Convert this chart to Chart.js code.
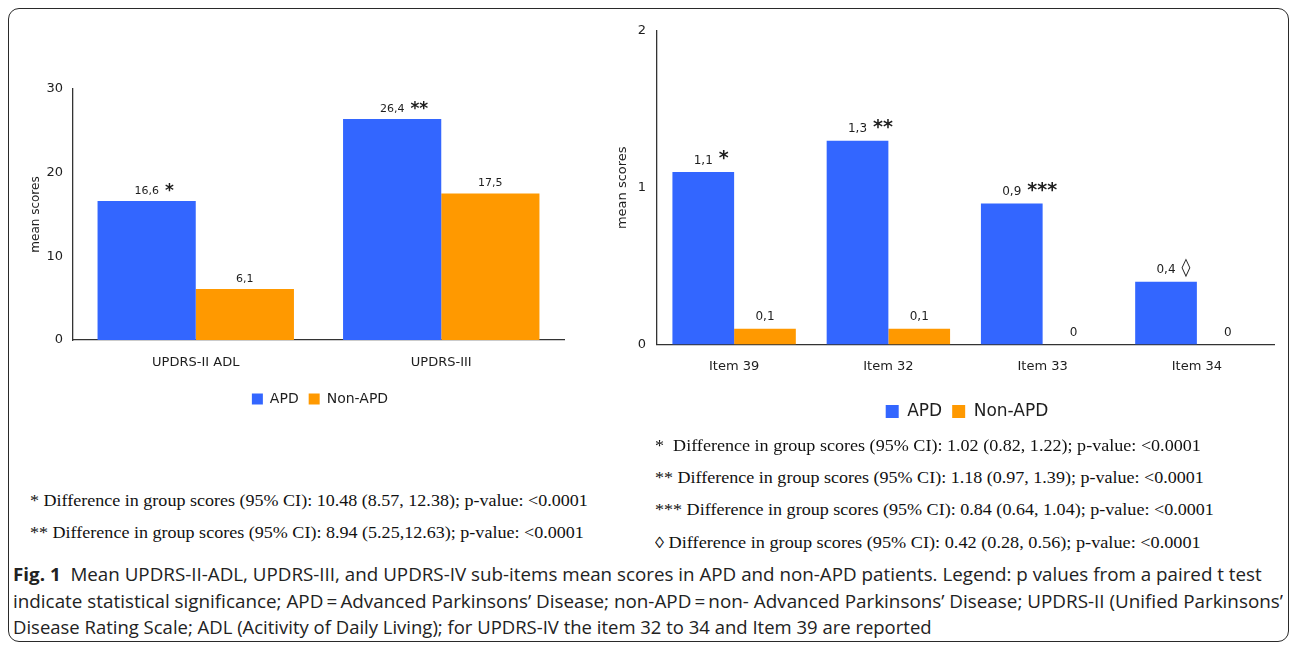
<!DOCTYPE html>
<html>
<head>
<meta charset="utf-8">
<script src="https://cdn.jsdelivr.net/npm/chart.js@4.4.1/dist/chart.umd.min.js"></script>
<style>
  html, body { margin: 0; padding: 0; background: #fff; }
  body { width: 1295px; height: 647px; overflow: hidden; position: relative; }
  .frame { position: absolute; left: 8px; top: 8px; width: 1281px; height: 634px;
           border: 1px solid #2a2a2a; border-radius: 11px; box-sizing: border-box; }
  canvas { position: absolute; }
  .note { position: absolute; white-space: pre; font-family: "Liberation Serif", "DejaVu Serif", serif;
          font-size: 16px; color: #111; transform-origin: 0 50%; line-height: 20px; }
  .cap { position: absolute; white-space: pre; font-family: "Open Sans", "Noto Sans", sans-serif;
         font-size: 18px; color: #222; transform-origin: 0 50%; line-height: 24px; }
  .cap b { font-weight: 700; }
</style>
</head>
<body>
<div class="frame"></div>
<canvas id="left" width="600" height="356" style="left:20px; top:60px;"></canvas>
<canvas id="right" width="734" height="430" style="left:600px; top:0px;"></canvas>
<div id="notes"></div>
<script>
// ---------------- data ----------------
const seriesNames = ['APD', 'Non-APD'];

const leftCategories = ['UPDRS-II ADL', 'UPDRS-III'];
const leftAPD = [16.6, 26.4];
const leftNonAPD = [6.1, 17.5];
const leftMarkers = ['*', '**'];
const leftTicks = [0, 10, 20, 30];

const rightCategories = ['Item 39', 'Item 32', 'Item 33', 'Item 34'];
const rightAPD = [1.1, 1.3, 0.9, 0.4];
const rightNonAPD = [0.1, 0.1, 0, 0];
const rightMarkers = ['*', '**', '***', '\u25CA'];
const rightTicks = [0, 1, 2];

const axisTitle = 'mean scores';

const leftNotes = [
  '* Difference in group scores (95% CI): 10.48 (8.57, 12.38); p-value: <0.0001',
  '** Difference in group scores (95% CI): 8.94 (5.25,12.63); p-value: <0.0001'
];
const rightNotes = [
  '*  Difference in group scores (95% CI): 1.02 (0.82, 1.22); p-value: <0.0001',
  '** Difference in group scores (95% CI): 1.18 (0.97, 1.39); p-value: <0.0001',
  '*** Difference in group scores (95% CI): 0.84 (0.64, 1.04); p-value: <0.0001',
  '\u25CA Difference in group scores (95% CI): 0.42 (0.28, 0.56); p-value: <0.0001'
];
const captionLead = 'Fig. 1';
const captionLines = [
  'Mean UPDRS-II-ADL, UPDRS-III, and UPDRS-IV sub-items mean scores in APD and non-APD patients. Legend: p values from a paired t test',
  'indicate statistical significance; APD\u2009=\u2009Advanced Parkinsons\u2019 Disease; non-APD\u2009=\u2009non- Advanced Parkinsons\u2019 Disease; UPDRS-II (Unified Parkinsons\u2019',
  'Disease Rating Scale; ADL (Acitivity of Daily Living); for UPDRS-IV the item 32 to 34 and Item 39 are reported'
];

// ---------------- styling ----------------
const BLUE = '#3366ff';
const ORANGE = '#ff9900';
const FONT = '"DejaVu Sans", Verdana, sans-serif';
const TXT = '#1e1e1e';

const valueLabels = {
  id: 'valueLabels',
  afterDatasetsDraw(chart, args, opts) {
    const ctx = chart.ctx;
    ctx.save();
    chart.data.datasets.forEach((ds, di) => {
      const meta = chart.getDatasetMeta(di);
      meta.data.forEach((bar, i) => {
        const v = ds.data[i];
        const txt = String(v).replace('.', ',');
        const cy = bar.y - opts.offset;
        ctx.font = opts.size + 'px ' + FONT;
        ctx.fillStyle = TXT;
        ctx.textAlign = 'center';
        ctx.textBaseline = 'middle';
        ctx.fillText(txt, bar.x, cy);
        const marks = di === 0 ? opts.markers[i] : null;
        if (marks) {
          const w = ctx.measureText(txt).width;
          const isStar = marks.indexOf('*') >= 0;
          const ms = isStar ? opts.starSize : opts.diamondSize;
          ctx.font = (isStar ? 'bold ' : '') + ms + 'px ' + FONT;
          ctx.textAlign = 'left';
          ctx.textBaseline = 'alphabetic';
          const base = isStar ? cy - opts.starLift + ms * 0.56 : cy - opts.diamondLift + ms * 0.36;
          ctx.fillText(marks, bar.x + w / 2 + opts.gap, base);
        }
      });
    });
    ctx.restore();
  }
};

function makeChart(id, cats, apd, non, ticks, cfg) {
  const tickVals = ticks;
  return new Chart(document.getElementById(id), {
    type: 'bar',
    data: {
      labels: cats,
      datasets: [
        { label: seriesNames[0], data: apd, backgroundColor: BLUE, borderWidth: 0 },
        { label: seriesNames[1], data: non, backgroundColor: ORANGE, borderWidth: 0 }
      ]
    },
    options: {
      responsive: false,
      animation: false,
      devicePixelRatio: 1,
      layout: { padding: { top: cfg.padTop, left: 0, right: 0, bottom: 0 } },
      datasets: { bar: { barPercentage: 1.0, categoryPercentage: 0.8 } },
      scales: {
        x: {
          grid: { display: false, drawTicks: false },
          border: { display: true, color: '#333', width: 1.3 },
          ticks: { color: TXT, padding: cfg.xPad, font: { family: FONT, size: cfg.xSize } },
          afterFit(s) { s.height = cfg.xHeight; }
        },
        y: {
          min: tickVals[0], max: tickVals[tickVals.length - 1],
          afterBuildTicks(s) { s.ticks = tickVals.map(v => ({ value: v })); },
          grid: { display: false, drawTicks: false },
          border: { display: true, color: '#333', width: 1.3 },
          ticks: { color: TXT, padding: cfg.yPad, font: { family: FONT, size: cfg.ySize } },
          title: { display: true, text: axisTitle, color: TXT,
                   font: { family: FONT, size: cfg.titleSize }, padding: { top: cfg.titlePad, bottom: 0 } },
          afterFit(s) { s.width = cfg.yWidth; }
        },
        spacer: {
          type: 'linear', position: 'right', display: true,
          grid: { display: false, drawTicks: false }, border: { display: false },
          ticks: { display: false },
          afterFit(s) { s.width = cfg.spacer; }
        }
      },
      plugins: {
        tooltip: { enabled: false },
        legend: {
          position: 'bottom',
          labels: { color: TXT, boxWidth: cfg.box, boxHeight: cfg.box, padding: 10,
                    font: { family: FONT, size: cfg.legendSize } }
        },
        valueLabels: cfg.labels
      }
    },
    plugins: [valueLabels]
  });
}

makeChart('left', leftCategories, leftAPD, leftNonAPD, leftTicks, {
  padTop: 29, xPad: 15, xSize: 13, xHeight: 42, yPad: 10, ySize: 13, titleSize: 12, titlePad: 9,
  yWidth: 53, spacer: 56, box: 11, legendSize: 14,
  labels: { offset: 10, size: 11, markers: leftMarkers, starSize: 17, diamondSize: 15, gap: 6,
            starLift: 5, diamondLift: 3 }
});

makeChart('right', rightCategories, rightAPD, rightNonAPD, rightTicks, {
  padTop: 31, xPad: 14, xSize: 13, xHeight: 48.5, yPad: 11, ySize: 13, titleSize: 13, titlePad: 15,
  yWidth: 57, spacer: 60, box: 13, legendSize: 17,
  labels: { offset: 11.5, size: 12, markers: rightMarkers, starSize: 19, diamondSize: 18, gap: 6,
            starLift: 7, diamondLift: 4 }
});

// ---------------- notes & caption ----------------
const host = document.getElementById('notes');
function addLine(cls, html, x, yCenter, targetW) {
  const d = document.createElement('div');
  d.className = cls;
  d.innerHTML = html;
  host.appendChild(d);
  const h = d.offsetHeight;
  d.style.left = x + 'px';
  d.style.top = (yCenter - h / 2) + 'px';
  const w = d.scrollWidth;
  if (targetW) d.style.transform = 'scaleX(' + (targetW / w) + ')';
}
function esc(s) { return s.replace(/&/g, '&amp;').replace(/</g, '&lt;'); }

const leftNoteY = [501, 533];
const leftNoteW = [558, 554];
leftNotes.forEach((t, i) => addLine('note', esc(t), 30, leftNoteY[i], leftNoteW[i]));
const rightNoteY = [446, 478, 510, 543];
const rightNoteW = [546, 549, 559, 546];
rightNotes.forEach((t, i) => addLine('note', esc(t), 655, rightNoteY[i], rightNoteW[i]));

const capY = [574, 600.5, 627];
const capW = [1249, 1270, 919];
captionLines.forEach((t, i) => {
  const html = i === 0 ? '<b>' + captionLead + '</b>  ' + esc(t) : esc(t);
  addLine('cap', html, 13, capY[i], capW[i]);
});
</script>
</body>
</html>
